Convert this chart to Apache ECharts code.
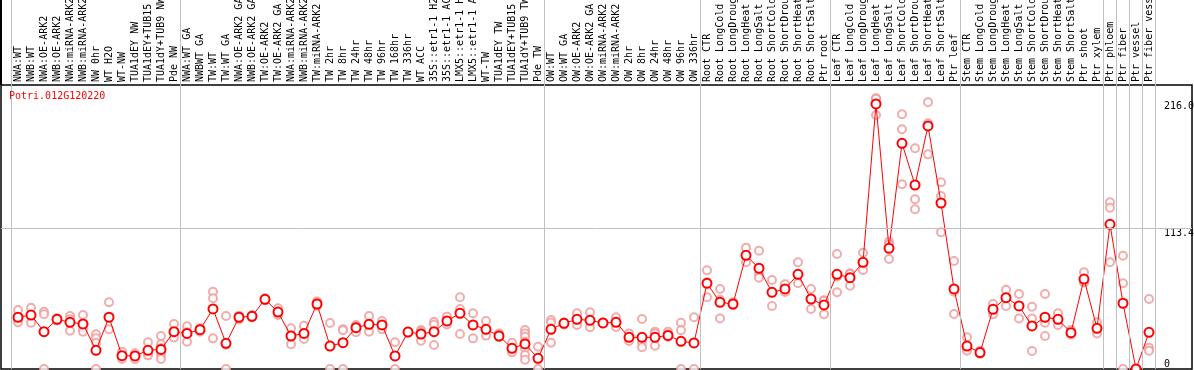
<!DOCTYPE html>
<html>
<head>
<meta charset="utf-8">
<script src="https://cdn.jsdelivr.net/npm/echarts@6/dist/echarts.min.js"></script>
<style>
  html, body { margin: 0; padding: 0; background: #fff; }
  #chart { width: 1194px; height: 370px; }
</style>
</head>
<body>
<div id="chart"></div>
<script>
// sample names, left to right
var categories = [
  'NWA:WT', 'NWB:WT', 'NWA:OE-ARK2', 'NWB:OE-ARK2', 'NWA:miRNA-ARK2', 'NWB:miRNA-ARK2',
  'NW 0hr', 'WT H2O', 'WT-NW', 'TUA1dEY NW', 'TUA1dEY+TUB15', 'TUA1dY+TUB9 NW', 'Pde NW',
  'NWA:WT GA', 'NWBWT GA', 'TW:WT', 'TW:WT GA', 'NWA:OE-ARK2 GA', 'NWB:OE-ARK2 GA',
  'TW:OE-ARK2', 'TW:OE-ARK2 GA', 'NWA:miRNA-ARK2', 'NWB:miRNA-ARK2', 'TW:miRNA-ARK2',
  'TW 2hr', 'TW 8hr', 'TW 24hr', 'TW 48hr', 'TW 96hr', 'TW 168hr', 'TW 336hr', 'WT ACC',
  '35S::etr1-1 H2O', '35S::etr1-1 ACC', 'LMX5::etr1-1 H2O', 'LMX5::etr1-1 ACC',
  'WT-TW', 'TUA1dEY TW', 'TUA1dEY+TUB15', 'TUA1dY+TUB9 TW', 'Pde TW',
  'OW:WT', 'OW:WT GA', 'OW:OE-ARK2', 'OW:OE-ARK2 GA', 'OW:miRNA-ARK2', 'OW:miRNA-ARK2',
  'OW 2hr', 'OW 8hr', 'OW 24hr', 'OW 48hr', 'OW 96hr', 'OW 336hr',
  'Root CTR', 'Root LongCold', 'Root LongDrought', 'Root LongHeat', 'Root LongSalt',
  'Root ShortCold', 'Root ShortDrought', 'Root ShortHeat', 'Root ShortSalt', 'Ptr root',
  'Leaf CTR', 'Leaf LongCold', 'Leaf LongDrought', 'Leaf LongHeat', 'Leaf LongSalt',
  'Leaf ShortCold', 'Leaf ShortDrought', 'Leaf ShortHeat', 'Leaf ShortSalt', 'Ptr leaf',
  'Stem CTR', 'Stem LongCold', 'Stem LongDrought', 'Stem LongHeat', 'Stem LongSalt',
  'Stem ShortCold', 'Stem ShortDrought', 'Stem ShortHeat', 'Stem ShortSalt', 'Ptr shoot',
  'Ptr xylem', 'Ptr phloem', 'Ptr fiber', 'Ptr vessel', 'Ptr fiber vessel'
];

// mean expression per sample
var meanValues = [
  41.7, 43.5, 30.1, 40.0, 37.6, 36.3, 15.1, 41.7, 10.7, 10.5, 15.1, 15.8, 30.1,
  28.7, 31.7, 48.4, 20.7, 41.7, 42.5, 56.2, 45.9, 26.6, 28.7, 52.4, 18.5, 21.2,
  33.3, 36.0, 35.5, 10.5, 29.8, 28.2, 30.1, 38.7, 44.9, 35.5, 32.0, 26.6, 16.7,
  20.2, 8.6, 32.0, 36.8, 40.0, 39.2, 37.1, 37.6, 25.5, 25.5, 25.5, 27.1, 22.3,
  21.0, 69.1, 53.7, 52.4, 91.6, 81.2, 61.8, 64.5, 76.3, 56.4, 51.6, 76.3, 73.6,
  86.0, 213.6, 97.3, 181.9, 148.3, 195.9, 133.8, 64.5, 18.5, 13.2, 48.1, 57.5,
  50.8, 34.7, 41.7, 40.0, 29.3, 72.5, 32.8, 116.6, 53.0, 0, 29.6
];

// single replicates per sample
var replicateValues = [
  [47.5, 39.5, 37.6], [49.4, 43.5, 37.3], [46.2, 44.1, 0], [41, 40, 39],
  [42.7, 40.0, 30.9], [43.5, 32.8, 30.1], [28, 24.7, 21, 0], [53.7, 41.7, 32.0],
  [14.0, 10, 8.1], [12.6, 10.5, 8.1], [21.5, 13, 11], [26.6, 20, 17, 14, 11, 8],
  [36.3, 29, 25.3], [34.4, 29.7, 22], [33, 31, 30], [62.3, 57.0, 24.7],
  [42.7, 19.4, 0], [43, 41.7, 40], [43.5, 42.5, 41.5], [57, 56, 55.5],
  [48.9, 45.4, 43.5], [32.8, 27, 19.9], [34.9, 28.7, 24.2], [54.5, 52.9, 51],
  [37.1, 18.5, 0], [32, 31.2, 0], [35.5, 34.5, 29.6], [42.7, 35.2, 30.1],
  [38.7, 35.5, 32], [21.5, 10, 0], [30.3, 29.8, 29.3], [31.4, 30.3, 22.8],
  [38.1, 35.8, 19.3], [42.2, 38.7, 35.8], [57.8, 48.4, 28.2], [44.9, 35.5, 24.7],
  [38.7, 31.2, 26.9], [28.7, 27.5, 25.8], [21.2, 16.7, 13.4],
  [31.4, 28.7, 26, 22, 16.7, 11.3, 7.5], [18, 8, 0], [39.5, 37.5, 21.2],
  [37.6, 35.8, 37], [44.9, 35.5, 40.0], [45.7, 39, 33.6], [37.5, 37, 36.8],
  [41.7, 37.6, 33.9], [28.7, 25.5, 22.5], [40.3, 21.5, 17.5], [30.1, 28.7, 18.8],
  [30.1, 28, 25.8], [37.3, 31.2, 0], [41.7, 21, 0], [79.5, 70, 57.8],
  [64.5, 55.8, 40.8], [53.7, 51.6, 51.9], [97.8, 91, 86], [95.4, 76.3, 73.6],
  [71.7, 61.8, 50.8], [68.3, 63.7, 62], [86, 76, 69.1], [64.5, 56.4, 48.4],
  [55.5, 55, 44.1], [92.7, 74.5, 61.8], [77.1, 76.5, 67.1], [93.7, 84.5, 79.8],
  [218.2, 217.9, 204.7], [102.6, 100.6, 88.7], [205.3, 193.2, 148.9],
  [177.9, 136.8, 128.7], [215.0, 198.0, 173.0], [150.5, 139.4, 110.2],
  [87.0, 62.3, 44.3], [25.5, 16, 14.8], [14.8, 12.5, 12.3], [52.4, 48, 44.1],
  [63.9, 57.6, 50.8], [60.4, 51, 40.8], [50.2, 40.8, 14.5], [60.4, 37.3, 26.6],
  [44.9, 35.5, 40], [31.4, 28.7, 27.6], [77.9, 70, 69.9], [37.6, 32, 28.7],
  [134.4, 130.0, 86.0], [91.3, 69.1, 0], [0, 0, 0], [56.4, 17.2, 14.8]
];

// where the grey group separators sit (category boundary index)
var groupBounds = [0, 13, 41, 53, 63, 73, 84, 85, 86, 87, 88];
var yLabelValues = [113.4, 216.0];
var refLineValue = 113.4;
var geneName = 'Potri.012G120220';

var yMax = 228.9;
var mono = 'DejaVu Sans Mono';

var scatterData = [];
replicateValues.forEach(function (reps, i) {
  reps.forEach(function (v) { scatterData.push([i, v]); });
});

var chart = echarts.init(document.getElementById('chart'));
chart.setOption({
  animation: false,
  title: {
    text: geneName,
    left: 9, top: 91, padding: 0,
    textStyle: { color: '#ff0000', fontSize: 10, fontWeight: 'normal', fontFamily: mono }
  },
  graphic: [{
    type: 'line', z: 10,
    shape: { x1: 1, y1: 0, x2: 1, y2: 85 },
    style: { stroke: '#000', lineWidth: 2 }
  }],
  grid: [
    // frame
    { left: 1, top: 85, width: 1191, height: 284, outerBoundsMode: 'none', show: true, borderColor: '#000', borderWidth: 1.5, backgroundColor: 'transparent' },
    // data
    { left: 11.5, top: 85, width: 1144, height: 284, outerBoundsMode: 'none' },
    // group separators, full height
    { left: 11.5, top: 0, width: 1144, height: 369, outerBoundsMode: 'none' }
  ],
  xAxis: [
    {
      gridIndex: 1, type: 'category', data: categories, position: 'top', boundaryGap: true,
      axisLine: { show: false }, axisTick: { show: false }, splitLine: { show: false },
      axisLabel: { interval: 0, rotate: 90, margin: 3, fontSize: 10, fontFamily: mono, color: '#000' }
    },
    { gridIndex: 0, type: 'value', min: 0, max: 1, show: false },
    { gridIndex: 2, type: 'value', min: 0, max: categories.length, show: false }
  ],
  yAxis: [
    {
      gridIndex: 1, type: 'value', min: 0, max: yMax, position: 'right',
      axisLine: { show: false }, axisTick: { show: false }, splitLine: { show: false },
      axisLabel: {
        customValues: yLabelValues, margin: 8.5, align: 'left', verticalAlign: 'top',
        fontSize: 10, fontFamily: mono, color: '#000',
        formatter: function (v) { return v.toFixed(1); }
      }
    },
    {
      gridIndex: 1, type: 'value', min: 0, max: yMax, position: 'right',
      axisLine: { show: false }, axisTick: { show: false }, splitLine: { show: false },
      axisLabel: {
        customValues: [0], margin: 8.5, align: 'left', verticalAlign: 'bottom',
        fontSize: 10, fontFamily: mono, color: '#000',
        formatter: function (v) { return String(v); }
      }
    },
    { gridIndex: 0, type: 'value', min: 0, max: yMax, show: false },
    { gridIndex: 2, type: 'value', min: 0, max: 1, show: false }
  ],
  series: [
    {
      name: 'separators', type: 'line', xAxisIndex: 2, yAxisIndex: 3, data: [],
      markLine: {
        silent: true, symbol: 'none', animation: false,
        label: { show: false },
        lineStyle: { color: '#c0c0c0', type: 'solid', width: 1 },
        data: groupBounds.map(function (b) { return { xAxis: b }; })
      }
    },
    {
      name: 'ref', type: 'line', xAxisIndex: 1, yAxisIndex: 2, data: [],
      markLine: {
        silent: true, symbol: 'none', animation: false,
        label: { show: false },
        lineStyle: { color: '#c0c0c0', type: 'solid', width: 1 },
        data: [{ yAxis: refLineValue }]
      }
    },
    {
      name: 'replicates', type: 'scatter', xAxisIndex: 0, yAxisIndex: 0,
      data: scatterData,
      symbol: 'emptyCircle', symbolSize: 8,
      itemStyle: { color: '#ee9999', borderColor: '#ee9999', borderWidth: 1.2 },
      z: 3
    },
    {
      name: 'mean', type: 'line', xAxisIndex: 0, yAxisIndex: 0,
      data: meanValues,
      symbol: 'emptyCircle', symbolSize: 9, showAllSymbol: true,
      lineStyle: { color: '#ff0000', width: 1 },
      itemStyle: { color: '#ff0000', borderColor: '#ff0000', borderWidth: 1.6 },
      z: 4
    }
  ]
});
</script>
</body>
</html>
